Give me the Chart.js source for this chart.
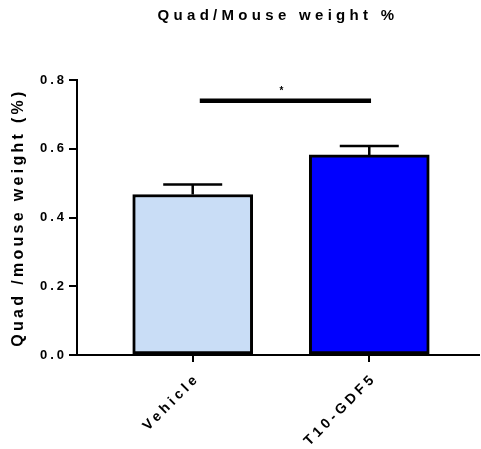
<!DOCTYPE html>
<html>
<head>
<meta charset="utf-8">
<script src="https://cdn.jsdelivr.net/npm/chart.js@4"></script>
<style>
  html, body { margin: 0; padding: 0; background: #fff; }
  #wrap { width: 481px; height: 449px; }
</style>
</head>
<body>
<div id="wrap"><canvas id="chart"></canvas></div>
<script>
// group names and their means / SEM (quad weight as % of body weight)
const categories = ['Vehicle', 'T10-GDF5'];
const means = [0.467, 0.582];
const sems = [0.029, 0.026];
const barColors = ['#C9DDF6', '#0000FF'];
const yTicks = [0.0, 0.2, 0.4, 0.6, 0.8];

// significance bracket between the two groups
const sigFrom = 1.04, sigTo = 2.01, sigLevel = 0.74, sigLabel = '*';

const FONT = "'Liberation Sans', Arial, sans-serif";
Chart.defaults.color = '#000';
Chart.defaults.font.family = FONT;
Chart.defaults.font.weight = 'bold';

// wide tracking on the labels, picked per font size (px -> spacing)
const tracking = { 15: 4.3, 16: 3.3, 13: 3, 14: 3.7 };
const fontProp = Object.getOwnPropertyDescriptor(CanvasRenderingContext2D.prototype, 'font');
Object.defineProperty(CanvasRenderingContext2D.prototype, 'font', {
  configurable: true,
  get() { return fontProp.get.call(this); },
  set(v) {
    fontProp.set.call(this, v);
    const m = /(\d+(?:\.\d+)?)px/.exec(v);
    this.letterSpacing = ((m && tracking[+m[1]]) || 0) + 'px';
  }
});

// upper error bars + the significance line
const extras = {
  id: 'extras',
  afterDatasetsDraw(chart) {
    const ctx = chart.ctx;
    const xs = chart.scales.x, ys = chart.scales.y;
    const meta = chart.getDatasetMeta(0);
    ctx.save();
    ctx.strokeStyle = '#000';
    ctx.lineWidth = 2.5;
    meta.data.forEach((bar, i) => {
      const yTop = ys.getPixelForValue(means[i] + sems[i]);
      const yMean = ys.getPixelForValue(means[i]);
      ctx.beginPath();
      ctx.moveTo(bar.x, yMean);
      ctx.lineTo(bar.x, yTop);
      ctx.moveTo(bar.x - 29.5, yTop);
      ctx.lineTo(bar.x + 29.5, yTop);
      ctx.stroke();
    });
    const y = ys.getPixelForValue(sigLevel);
    const x1 = xs.getPixelForValue(sigFrom), x2 = xs.getPixelForValue(sigTo);
    ctx.lineWidth = 4.5;
    ctx.beginPath();
    ctx.moveTo(x1, y);
    ctx.lineTo(x2, y);
    ctx.stroke();
    ctx.fillStyle = '#000';
    ctx.font = 'bold 10px ' + FONT;
    ctx.textAlign = 'center';
    ctx.textBaseline = 'bottom';
    ctx.fillText(sigLabel, (x1 + x2) / 2 - 4, y - 4);
    ctx.restore();
  }
};

new Chart(document.getElementById('chart'), {
  type: 'bar',
  data: {
    datasets: [{
      data: categories.map((c, i) => ({ x: i + 1, y: means[i] })),
      backgroundColor: barColors,
      borderColor: '#000',
      borderWidth: 3,
      borderSkipped: false,
      barThickness: 120
    }]
  },
  options: {
    responsive: true,
    maintainAspectRatio: false,
    animation: false,
    layout: { padding: { left: 0, right: 2, top: 0, bottom: 0 } },
    plugins: {
      legend: { display: false },
      tooltip: { enabled: false },
      title: {
        display: true,
        fullSize: false,
        text: 'Quad/Mouse weight %',
        font: { size: 15, weight: 'bold' },
        padding: { top: 6.5, bottom: 55.5 }
      }
    },
    scales: {
      x: {
        type: 'linear',
        offset: false,
        min: 0.3446,
        max: 2.6215,
        afterBuildTicks(scale) {
          scale.ticks = categories.map((c, i) => ({ value: i + 1 }));
        },
        afterFit(scale) { scale.height = 94; },
        ticks: {
          autoSkip: false,
          minRotation: 45,
          maxRotation: 45,
          padding: 8,
          labelOffset: 5,
          font: { size: 14, weight: 'bold' },
          callback: v => categories[v - 1]
        },
        grid: {
          display: true,
          offset: false,
          drawOnChartArea: false,
          drawTicks: true,
          tickLength: 7,
          lineWidth: 2,
          color: '#000'
        },
        border: { display: true, width: 2, color: '#000' }
      },
      y: {
        min: 0,
        max: 0.8,
        afterBuildTicks(scale) {
          scale.ticks = yTicks.map(v => ({ value: v }));
        },
        afterFit(scale) { scale.width = 77; },
        ticks: {
          padding: 2,
          font: { size: 13, weight: 'bold' },
          callback: v => v.toFixed(1)
        },
        grid: {
          display: true,
          drawOnChartArea: false,
          drawTicks: true,
          tickLength: 8,
          lineWidth: 2,
          color: '#000'
        },
        border: { display: true, width: 2, color: '#000' },
        title: {
          display: true,
          text: 'Quad /mouse weight (%)',
          font: { size: 16, weight: 'bold' },
          padding: { top: 9.4, bottom: 0 }
        }
      }
    }
  },
  plugins: [extras]
});
</script>
</body>
</html>
